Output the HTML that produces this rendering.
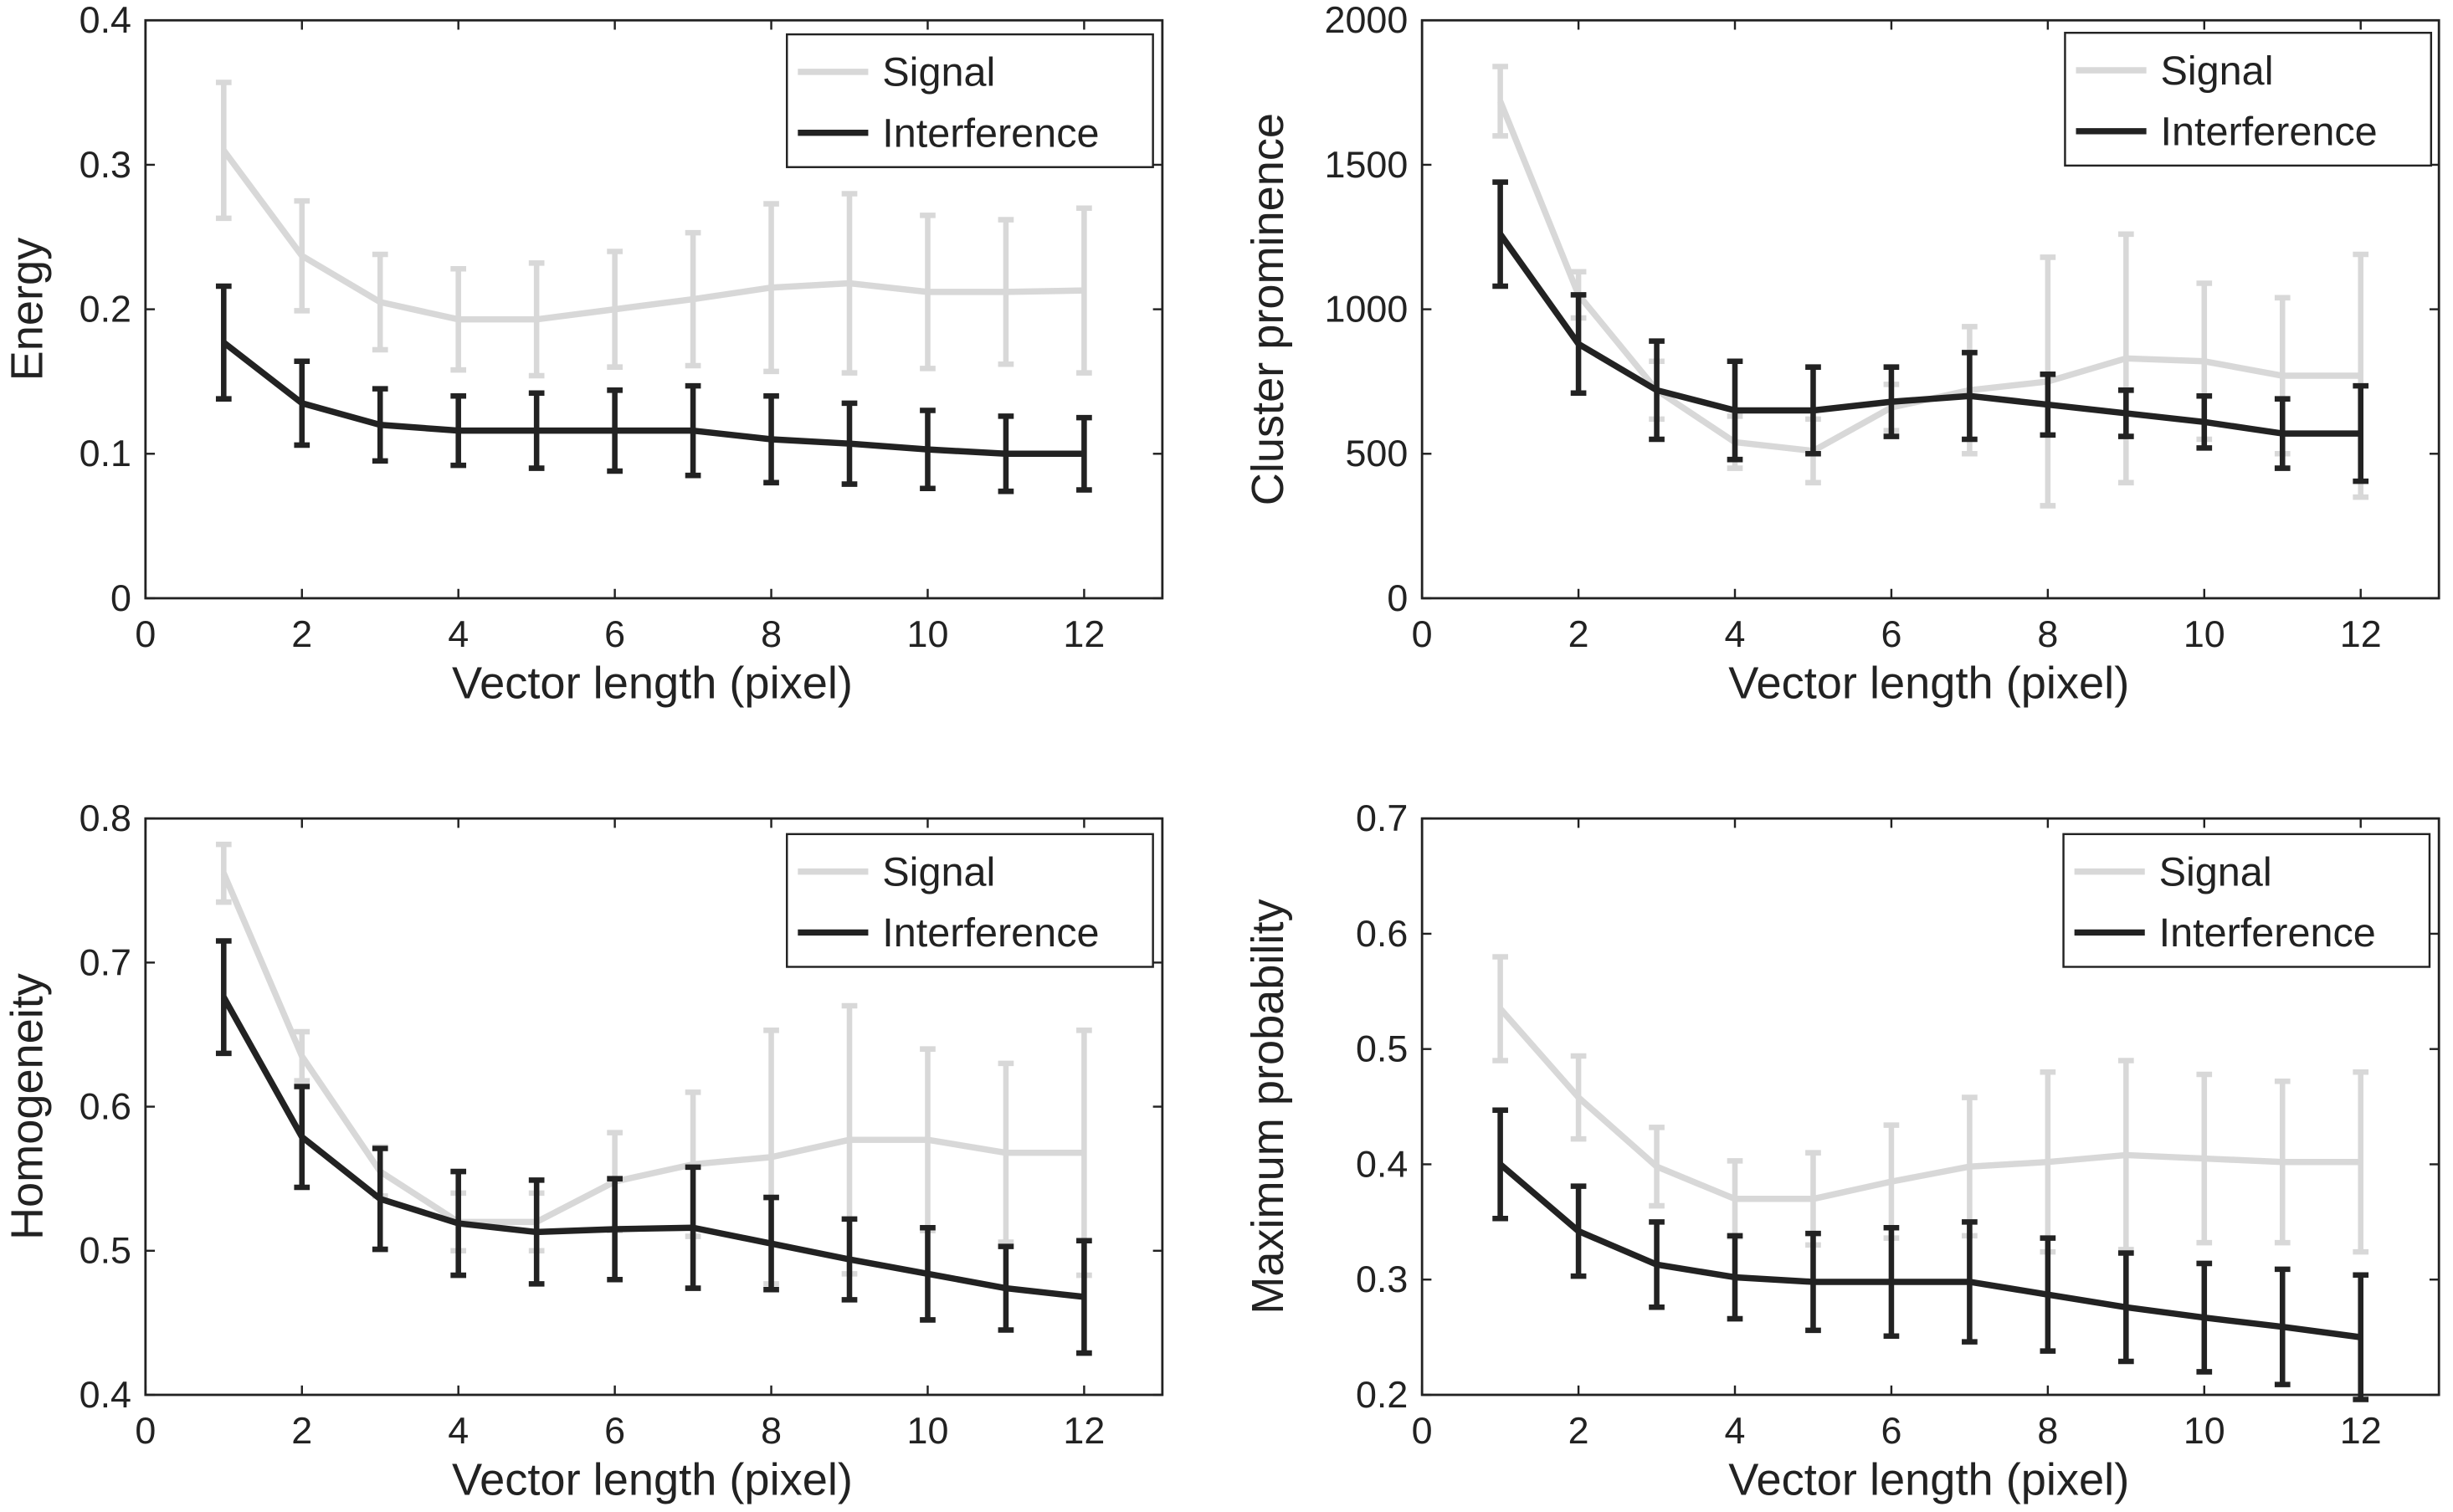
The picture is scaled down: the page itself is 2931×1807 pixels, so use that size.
<!DOCTYPE html>
<html><head><meta charset="utf-8"><style>
html,body{margin:0;padding:0;background:#fff;}
svg{display:block;font-family:"Liberation Sans",Arial,sans-serif;}
</style></head><body>
<svg id="fig" width="2931" height="1807" viewBox="0 0 1568 968" preserveAspectRatio="none" xmlns="http://www.w3.org/2000/svg"></svg>
<script>
const xs=[1,2,3,4,5,6,7,8,9,10,11,12];
const energySig=[0.31,0.237,0.205,0.193,0.193,0.2,0.207,0.215,0.218,0.212,0.212,0.213];
const energySigErr=[0.047,0.038,0.033,0.035,0.039,0.04,0.046,0.058,0.062,0.053,0.05,0.057];
const energyInt=[0.177,0.135,0.12,0.116,0.116,0.116,0.116,0.11,0.107,0.103,0.1,0.1];
const energyIntErr=[0.039,0.029,0.025,0.024,0.026,0.028,0.031,0.03,0.028,0.027,0.026,0.025];
const clusterSig=[1720,1050,720,540,510,660,720,750,830,820,770,770];
const clusterSigErr=[120,80,100,90,110,80,220,430,430,270,270,420];
const clusterInt=[1260,880,720,650,650,680,700,670,640,610,570,570];
const clusterIntErr=[180,170,170,170,150,120,150,105,80,90,120,165];
const homoSig=[0.762,0.635,0.555,0.52,0.52,0.548,0.56,0.565,0.577,0.577,0.568,0.568];
const homoSigErr=[0.02,0.017,0.017,0.02,0.02,0.034,0.05,0.088,0.093,0.063,0.062,0.085];
const homoInt=[0.676,0.579,0.536,0.519,0.513,0.515,0.516,0.505,0.494,0.484,0.474,0.468];
const homoIntErr=[0.039,0.035,0.035,0.036,0.036,0.035,0.042,0.032,0.028,0.032,0.029,0.039];
const maxSig=[0.535,0.458,0.398,0.37,0.37,0.385,0.398,0.402,0.408,0.405,0.402,0.402];
const maxSigErr=[0.045,0.036,0.034,0.033,0.04,0.049,0.06,0.078,0.082,0.073,0.07,0.078];
const maxInt=[0.4,0.342,0.313,0.302,0.298,0.298,0.298,0.287,0.276,0.267,0.259,0.25];
const maxIntErr=[0.047,0.039,0.037,0.036,0.042,0.047,0.052,0.049,0.047,0.047,0.05,0.054];
const xTicks=[0,2,4,6,8,10,12];
const energyTicks=["0","0.1","0.2","0.3","0.4"];
const clusterTicks=["0","500","1000","1500","2000"];
const homoTicks=["0.4","0.5","0.6","0.7","0.8"];
const maxTicks=["0.2","0.3","0.4","0.5","0.6","0.7"];

const NS="http://www.w3.org/2000/svg";
const fig=document.getElementById('fig');
function mk(tag,attrs,parent){const e=document.createElementNS(NS,tag);for(const k in attrs)e.setAttribute(k,attrs[k]);(parent||fig).appendChild(e);return e;}

function panel(name,L,T,R,B,ymin,ymax,yTicks,ytitle,sig,sigErr,intr,intErr,leg,yOff){
  const g=mk('g',{});
  
  
  const sx=v=>L+(v/13)*(R-L);
  const sy=v=>B-(v-ymin)/(ymax-ymin)*(B-T);
  const frame=mk('rect',{x:L,y:T,width:R-L,height:B-T,fill:'none',stroke:'#222','stroke-width':1.5},g);
  
  
  xTicks.forEach(t=>{
    const X=sx(t);
    mk('line',{x1:X,y1:B,x2:X,y2:B-6,stroke:'#222','stroke-width':1.3},g);
    mk('line',{x1:X,y1:T,x2:X,y2:T+6,stroke:'#222','stroke-width':1.3},g);
    const tx=mk('text',{x:X,y:B+31,'font-size':24,'text-anchor':'middle',fill:'#222'},g);
    tx.textContent=t;
    
    
  });
  yTicks.forEach(s=>{
    const v=parseFloat(s),Y=sy(v);
    mk('line',{x1:L,y1:Y,x2:L+6,y2:Y,stroke:'#222','stroke-width':1.3},g);
    mk('line',{x1:R,y1:Y,x2:R-6,y2:Y,stroke:'#222','stroke-width':1.3},g);
    const tx=mk('text',{x:L-9,y:Y+8,'font-size':24,'text-anchor':'end',fill:'#222'},g);
    tx.textContent=s;
    
    
  });
  const xt=mk('text',{x:(sx(0)+sx(13))/2-1,y:B+64,'font-size':29,'text-anchor':'middle',fill:'#222'},g);
  xt.textContent='Vector length (pixel)';
  
  
  const yt=mk('text',{x:0,y:0,'font-size':29,'text-anchor':'middle',fill:'#222',transform:`translate(${L-yOff},${(T+B)/2}) rotate(-90)`},g);
  yt.textContent=ytitle;
  
  
  function series(vals,errs,color,sname){
    const sg=mk('g',{},g);
    
    
    vals.forEach((v,i)=>{
      const X=sx(xs[i]),Y1=sy(v+errs[i]),Y2=sy(v-errs[i]);
      const eb=mk('path',{d:`M${X},${Y1}V${Y2}M${X-5},${Y1}H${X+5}M${X-5},${Y2}H${X+5}`,stroke:color,'stroke-width':3.5,fill:'none'},sg);
      
      
    });
    const ln=mk('polyline',{points:vals.map((v,i)=>sx(xs[i])+','+sy(v)).join(' '),stroke:color,'stroke-width':4,fill:'none','stroke-linejoin':'round'},sg);
    
    
  }
  series(sig,sigErr,'#d8d8d8','signal');
  series(intr,intErr,'#222','interference');
  const lg=mk('g',{},g);
  
  
  mk('rect',{x:leg[0],y:leg[1],width:234,height:85,fill:'#fff',stroke:'#222','stroke-width':1.3},lg);
  const entries=[['Signal','#d8d8d8',24],['Interference','#222',63]];
  entries.forEach(e=>{
    const le=mk('g',{},lg);
    
    
    mk('line',{x1:leg[0]+7,y1:leg[1]+e[2],x2:leg[0]+52,y2:leg[1]+e[2],stroke:e[1],'stroke-width':4},le);
    const t=mk('text',{x:leg[0]+61,y:leg[1]+e[2]+9,'font-size':26,fill:'#222'},le);
    t.textContent=e[0];
  });
}
panel('energy',93,13,743,383,0,0.4,energyTicks,'Energy',energySig,energySigErr,energyInt,energyIntErr,[503,22],66);
panel('cluster-prominence',909,13,1559,383,0,2000,clusterTicks,'Cluster prominence',clusterSig,clusterSigErr,clusterInt,clusterIntErr,[1320,21],89);
panel('homogeneity',93,524,743,893,0.4,0.8,homoTicks,'Homogeneity',homoSig,homoSigErr,homoInt,homoIntErr,[503,534],66);
panel('maximum-probability',909,524,1559,893,0.2,0.7,maxTicks,'Maximum probability',maxSig,maxSigErr,maxInt,maxIntErr,[1319,534],89);
</script>
</body></html>
